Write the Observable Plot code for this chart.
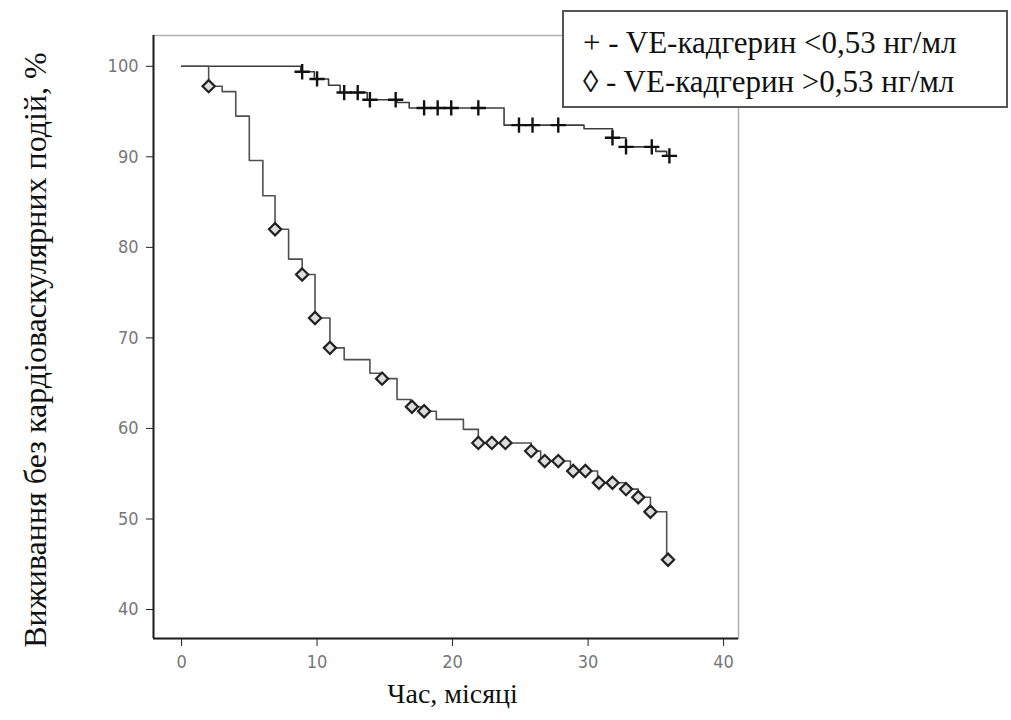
<!DOCTYPE html>
<html><head><meta charset="utf-8">
<script src="https://cdn.jsdelivr.net/npm/d3@7"></script>
<script src="https://cdn.jsdelivr.net/npm/@observablehq/plot@0.6"></script>
<style>
body{margin:0;background:#fff;}
#wrap{position:relative;width:1011px;height:720px;}
#legend{position:absolute;left:562px;top:10px;width:446px;height:98px;border:2px solid #555;box-sizing:border-box;font-family:"Liberation Serif","Times New Roman",serif;font-size:31px;color:#111;background:#fff;}
#legend div{position:absolute;left:19px;line-height:34px;white-space:nowrap;}
</style>
</head><body>
<div id="wrap"><div id="chart"></div>
<div id="legend"><div id="l1" style="top:14px"></div><div id="l2" style="top:53px"></div></div>
</div>
<script>
// Kaplan–Meier steps, group VE-cadherin < 0.53
const upperTime = [0, 8.8, 9.8, 10.85, 11.7, 13.7, 15.9, 16.8, 23.8, 29.7, 31.8, 32.8, 35.0, 35.8];
const upperSurv = [100, 99.4, 98.6, 97.9, 97.1, 96.3, 96.0, 95.4, 93.5, 93.1, 92.1, 91.1, 90.6, 90.1];
const upperCensorTime = [8.9, 10.0, 12.0, 13.0, 13.9, 15.8, 17.9, 18.9, 19.9, 21.9, 24.9, 25.9, 27.8, 31.8, 32.8, 34.7, 36.0];
const upperCensorSurv = [99.4, 98.6, 97.1, 97.1, 96.3, 96.3, 95.4, 95.4, 95.4, 95.4, 93.5, 93.5, 93.5, 92.1, 91.1, 91.1, 90.1];
// group VE-cadherin > 0.53
const lowerTime = [0, 2.0, 3.0, 4.0, 5.0, 6.0, 6.9, 7.9, 8.9, 9.85, 10.95, 12.0, 13.9, 14.8, 15.9, 16.9, 17.8, 18.8, 20.8, 21.9, 25.8, 26.5, 28.7, 30.7, 32.8, 33.7, 34.6, 35.8];
const lowerSurv = [100, 97.8, 97.2, 94.5, 89.6, 85.7, 82.0, 78.7, 77.0, 72.2, 68.9, 67.6, 66.1, 65.5, 63.2, 62.4, 61.9, 61.0, 59.9, 58.4, 57.5, 56.4, 55.3, 54.0, 53.3, 52.4, 50.8, 45.5];
const lowerCensorTime = [2.0, 6.9, 8.9, 9.85, 10.95, 14.8, 17.0, 17.9, 21.9, 22.9, 23.9, 25.8, 26.8, 27.8, 28.9, 29.8, 30.8, 31.8, 32.8, 33.7, 34.6, 35.9];
const lowerCensorSurv = [97.8, 82.0, 77.0, 72.2, 68.9, 65.5, 62.4, 61.9, 58.4, 58.4, 58.4, 57.5, 56.4, 56.4, 55.3, 55.3, 54.0, 54.0, 53.3, 52.4, 50.8, 45.5];
const followUpEnd = 36;

const xTicks = [0, 10, 20, 30, 40];
const yTicks = [40, 50, 60, 70, 80, 90, 100];
const xTitle = "Час, місяці";
const yTitle = "Виживання без кардіоваскулярних подій, %";
const legendLabels = ["+ - VE-кадгерин <0,53 нг/мл", "\u25CA - VE-кадгерин >0,53 нг/мл"];

function stepData(ts, vs) {
  const d = ts.map((t, i) => ({t, v: vs[i]}));
  d.push({t: followUpEnd, v: vs[vs.length - 1]});
  return d;
}
const upperLine = stepData(upperTime, upperSurv);
const lowerLine = stepData(lowerTime, lowerSurv);
const upperCens = upperCensorTime.map((t, i) => ({t, v: upperCensorSurv[i]}));
const lowerCens = lowerCensorTime.map((t, i) => ({t, v: lowerCensorSurv[i]}));

const xDom = [-2.07, 41.1], yDom = [36.8, 103.4];
const tickFont = "DejaVu Sans Condensed, DejaVu Sans, sans-serif";
const serif = "Liberation Serif, Times New Roman, serif";

const chart = Plot.plot({
  width: 1011, height: 720,
  marginLeft: 153, marginRight: 273, marginTop: 35, marginBottom: 82,
  x: {domain: xDom},
  y: {domain: yDom},
  style: {background: "#fff"},
  marks: [
    Plot.frame({stroke: "#b0b0b0", strokeWidth: 1.5}),
    Plot.ruleX([xDom[0]], {stroke: "#222", strokeWidth: 2}),
    Plot.ruleY([yDom[0]], {stroke: "#222", strokeWidth: 2}),
    Plot.axisY({ticks: yTicks, tickSize: 7, tickPadding: 8, stroke: "#222", fill: "#777", fontSize: 18, fontFamily: tickFont, label: null}),
    Plot.axisX({ticks: xTicks, tickSize: 8, tickPadding: 9, stroke: "#222", fill: "#777", fontSize: 18, fontFamily: tickFont, label: null}),
    Plot.line(upperLine, {x: "t", y: "v", curve: "step-after", stroke: "#3c3c3c", strokeWidth: 1.6}),
    Plot.line(lowerLine, {x: "t", y: "v", curve: "step-after", stroke: "#505050", strokeWidth: 1.6}),
    Plot.dot(upperCens, {x: "t", y: "v", symbol: "plus", r: 5, stroke: "#111", strokeWidth: 2.4}),
    Plot.dot(lowerCens, {x: "t", y: "v", symbol: "diamond2", r: 5.5, stroke: "#222", fill: "#ddd", strokeWidth: 2.2}),
    Plot.text([xTitle], {x: 20, frameAnchor: "bottom", lineAnchor: "middle", dy: 56, fontSize: 28, fontFamily: serif, fill: "#111"}),
    Plot.text([yTitle], {frameAnchor: "left", textAnchor: "middle", dx: -118, dy: 13, rotate: -90, fontSize: 32, fontFamily: serif, fill: "#111"})
  ]
});
document.getElementById("chart").appendChild(chart);
document.getElementById("l1").textContent = legendLabels[0];
document.getElementById("l2").textContent = legendLabels[1];
</script>
</body></html>
